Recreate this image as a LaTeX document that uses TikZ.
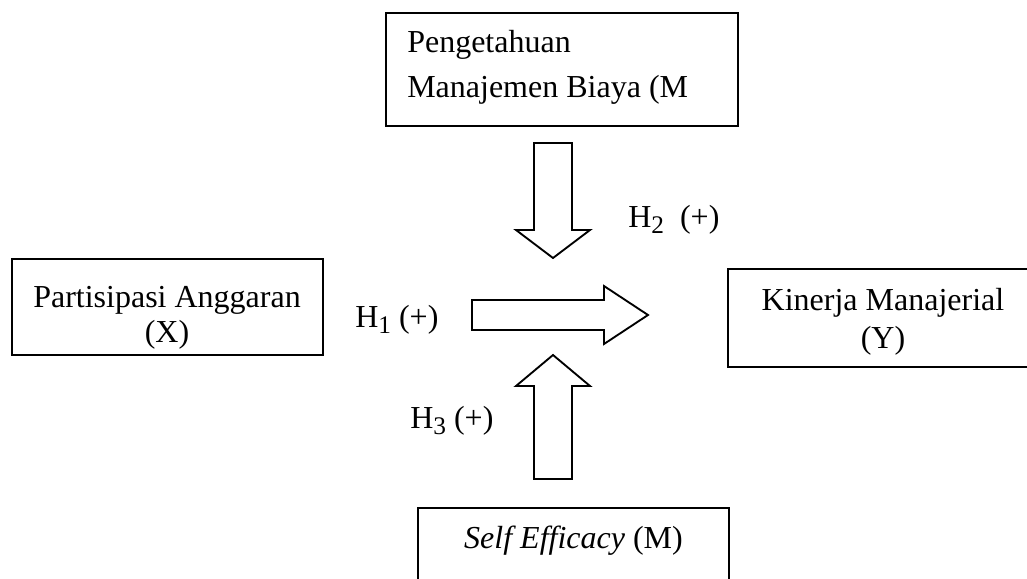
\documentclass[tikz,border=0pt]{standalone}
\usepackage{fontspec}
\setmainfont{Liberation Serif}
\newcommand{\hypo}[1]{H\raisebox{-4.5pt}{\fontsize{19}{19}\selectfont #1}}
\tikzset{
  box/.style={draw, line width=1.5pt, inner sep=0pt},
  boxtext/.style={inner sep=0pt, align=center},
  hyplabel/.style={inner sep=0pt, anchor=base west},
  blockarrow/.style={draw, line width=1.4pt, line join=miter, fill=white}
}
\begin{document}
\begin{tikzpicture}[x=0.75pt,y=-0.75pt,font=\fontsize{24}{26}\selectfont]
	\useasboundingbox (0,0) rectangle (1027,578);
	% boxes
	\node[box, minimum width=264pt, minimum height=84.75pt] (pmb) at (562,69.5) {};
	\node[box, minimum width=233.25pt, minimum height=72pt] (pa) at (167.5,307) {};
	\node[box, minimum width=237.75pt, minimum height=73.5pt] (km) at (886.5,318) {};
	\node[box, minimum width=233.25pt, minimum height=76.5pt] (se) at (573.5,559) {};
	% box texts
	\node[boxtext, align=left, anchor=north west, font=\fontsize{24}{33.75}\selectfont] (pmbtext) at (407,30) {Pengetahuan\\Manajemen Biaya (M};
	\node[boxtext, anchor=north, font=\fontsize{24}{26.25}\selectfont] (patext) at (167,286) {Partisipasi Anggaran\\(X)};
	\node[boxtext, anchor=north, font=\fontsize{24}{28.5}\selectfont] (kmtext) at (883,288) {Kinerja Manajerial\\(Y)};
	\node[boxtext, anchor=base] (setext) at (573.5,548) {\textit{Self Efficacy} (M)};
	% block arrows
	\draw[blockarrow] (534,143) -- (572,143) -- (572,230) -- (590,230) -- (553,258)
		-- (516,230) -- (534,230) -- cycle;
	\draw[blockarrow] (472,300) -- (604,300) -- (604,286) -- (648,315) -- (604,344)
		-- (604,330) -- (472,330) -- cycle;
	\draw[blockarrow] (534,479) -- (534,386) -- (516,386) -- (553,355) -- (590,386)
		-- (572,386) -- (572,479) -- cycle;
	% hypotheses
	\node[hyplabel] (h2) at (628,227) {\hypo{2}\ \ (+)};
	\node[hyplabel] (h1) at (355,327) {\hypo{1} (+)};
	\node[hyplabel] (h3) at (410,428) {\hypo{3} (+)};
\end{tikzpicture}
\end{document}
